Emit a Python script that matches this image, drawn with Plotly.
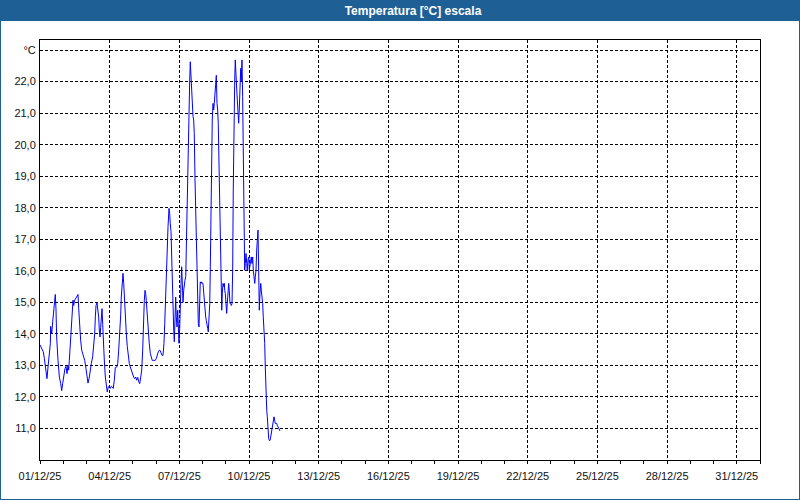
import pandas as pd
import plotly.graph_objects as go

# ---- data ----
start_time = "2025-12-01 00:00"
hours = [0, 2.1, 3.4, 4.5, 5.5, 7.2, 8.3, 9.6, 10.7, 11.0, 12.1, 13.1, 14.1, 14.8, 15.8, 16.5, 17.2, 18.6,
         20.0, 21.4, 22.4, 23.4, 24.5, 25.8, 26.9, 27.9, 28.9, 29.6, 30.3, 31.3, 32.4, 33.1, 34.1, 34.8,
         35.8, 37.2, 38.6, 39.3, 40.0, 41.0, 42.0, 43.1, 44.1, 45.1, 46.2, 47.5, 48.6, 49.6, 51.0, 52.0,
         53.0, 54.4, 55.4, 56.5, 57.2, 57.9, 58.9, 59.9, 60.6, 61.3, 62.0, 62.7, 63.4, 64.1, 64.8, 65.4,
         66.4, 67.5, 68.5, 69.5, 70.6, 71.6, 72.6, 73.7, 74.7, 75.7, 76.8, 77.8, 79.3, 80.3, 81.3, 82.4,
         83.4, 84.0, 85.0, 85.8, 86.5, 87.1, 88.1, 89.2, 90.2, 91.2, 92.3, 93.3, 94.8, 95.8, 96.8, 97.9,
         98.9, 99.9, 101.0, 102.0, 103.0, 104.1, 105.1, 106.1, 106.7, 107.8, 108.5, 109.2, 109.8, 110.9,
         111.9, 112.9, 114.0, 115.0, 116.0, 117.1, 118.1, 119.1, 120.2, 121.2, 122.2, 123.3, 124.0, 125.0,
         126.1, 127.1, 128.1, 128.9, 129.9, 130.5, 131.2, 132.3, 133.3, 134.0, 134.6, 135.4, 136.1, 136.7,
         137.4, 138.2, 138.8, 139.5, 140.2, 140.8, 141.6, 142.3, 142.9, 143.6, 144.4, 145.0, 145.7, 146.4,
         147.0, 147.8, 148.5, 149.1, 149.8, 150.6, 151.2, 151.9, 152.6, 153.2, 154.0, 154.7, 155.3, 156.0,
         156.8, 157.4, 158.1, 158.8, 159.4, 160.2, 160.9, 161.5, 162.2, 163.0, 163.6, 164.3, 165.0, 165.6,
         166.4, 167.1, 167.7, 168.4, 169.2, 169.8, 170.5, 171.2, 171.8, 172.6, 173.3, 173.9, 174.6, 175.4,
         176.0, 176.7, 177.4, 178.0, 178.8, 179.5, 180.1, 180.8, 181.6, 182.2, 182.9, 183.6, 184.2, 185.0,
         185.7, 186.3, 187.0, 187.8, 188.4, 189.1, 189.9, 190.5, 190.9, 191.5, 192.2, 192.9, 193.5, 194.3,
         195.0, 195.6, 196.3, 197.1, 197.7, 198.4, 199.1, 199.7, 200.5, 201.2, 201.8, 202.5, 203.3, 203.9,
         204.6, 205.3, 205.9, 206.7, 207.4, 208.0, 208.7, 209.4, 210.1, 210.8, 211.5, 212.1, 212.9, 213.6,
         214.2, 214.9, 215.7, 216.3, 217.0, 217.7, 218.3, 219.1, 219.8, 220.4, 221.1, 221.9, 222.5, 223.2,
         223.9, 224.5, 225.3, 226.0, 226.6, 227.3, 228.1, 228.7, 229.4, 230.1, 230.7, 231.5, 232.2, 232.8,
         233.5, 234.3, 234.9, 235.6, 236.3, 236.9, 237.7, 238.4, 239.0, 239.7, 240.5, 241.1, 241.8, 242.5,
         243.1, 243.9, 244.6, 245.2, 245.9, 246.7, 247.3, 248.0]
temps = [13.65, 13.54, 13.43, 13.22, 12.95, 12.58, 12.95, 13.27, 13.7, 14.24, 14.0, 14.38, 14.65, 14.97, 15.25,
         14.8, 13.9, 13.16, 12.63, 12.43, 12.2, 12.42, 12.67, 12.9, 12.97, 12.74, 13.0, 12.85, 13.16, 13.6,
         14.2, 14.6, 15.07, 14.9, 15.07, 15.14, 15.2, 15.25, 14.8, 14.2, 13.8, 13.48, 13.38, 13.27, 13.16,
         12.9, 12.64, 12.44, 12.63, 12.9, 13.06, 13.27, 13.59, 14.0, 14.54, 14.9, 14.98, 14.8, 14.54, 14.12,
         13.9, 14.2, 14.5, 14.8, 14.3, 13.6, 13.2, 12.63, 12.37, 12.16, 12.32, 12.34, 12.27, 12.34, 12.32,
         12.27, 12.53, 12.93, 12.95, 13.06, 13.48, 14.0, 14.6, 15.17, 15.65, 15.92, 15.6, 15.12, 14.5, 14.0,
         13.6, 13.3, 13.06, 12.95, 12.79, 12.66, 12.63, 12.58, 12.63, 12.53, 12.62, 12.48, 12.42, 12.63,
         12.85, 13.48, 14.33, 15.07, 15.38, 15.28, 15.07, 14.43, 14.0, 13.7, 13.38, 13.22, 13.16, 13.16,
         13.17, 13.16, 13.22, 13.38, 13.43, 13.48, 13.48, 13.4, 13.32, 13.32, 13.7, 14.33, 15.38, 16.23,
         16.76, 17.4, 17.98, 17.82, 17.5, 17.24, 16.44, 15.6, 14.75, 14.1, 13.75, 14.33, 15.17, 14.54, 14.22,
         14.75, 14.0, 13.7, 14.22, 15.5, 15.6, 16.13, 15.7, 15.0, 15.38, 15.7, 15.7, 15.81, 16.87, 18.14,
         19.0, 20.27, 21.42, 22.05, 22.63, 22.15, 22.05, 21.52, 20.9, 20.78, 20.36, 18.88, 17.83, 16.66,
         15.97, 15.07, 14.33, 14.22, 14.96, 15.65, 15.6, 15.65, 15.6, 15.6, 15.3, 14.97, 14.65, 14.54, 14.43,
         14.33, 14.17, 14.06, 14.43, 14.96, 16.13, 18.14, 19.62, 20.78, 21.31, 21.1, 21.31, 21.74, 22.05,
         22.2, 21.31, 21.1, 20.68, 19.42, 18.24, 17.29, 15.6, 14.75, 15.3, 15.6, 15.5, 15.6, 15.38, 15.28,
         14.96, 14.65, 14.96, 15.38, 15.6, 15.38, 14.96, 14.96, 14.9, 14.96, 16.02, 18.56, 21.42, 22.05,
         22.69, 21.95, 21.74, 21.42, 20.78, 20.68, 21.1, 22.0, 22.42, 22.0, 22.69, 21.52, 19.3, 16.66, 16.02,
         16.23, 16.55, 16.23, 16.02, 16.34, 16.44, 16.02, 16.13, 16.34, 16.44, 16.23, 16.44, 16.02, 15.81,
         15.6, 15.81, 16.02, 16.66, 16.87, 17.29, 15.9, 14.75, 15.28, 15.6, 15.38, 15.17, 14.96, 14.54,
         14.22, 13.7, 12.95, 12.0, 11.58, 11.37, 10.73, 10.68, 10.62, 10.62, 10.73, 10.84, 10.94, 11.05,
         11.26, 11.37, 11.26, 11.16, 11.16, 11.16, 11.1, 11.05, 11.0, 10.94, 10.92]

y_tick_values = [11, 12, 13, 14, 15, 16, 17, 18, 19, 20, 21, 22, 23]
y_tick_labels = ["11,0", "12,0", "13,0", "14,0", "15,0", "16,0", "17,0", "18,0", "19,0", "20,0",
                 "21,0", "22,0", "°C"]
x_tick_dates = ["2025-12-01", "2025-12-04", "2025-12-07", "2025-12-10", "2025-12-13", "2025-12-16",
                "2025-12-19", "2025-12-22", "2025-12-25", "2025-12-28", "2025-12-31"]
x_tick_labels = ["01/12/25", "04/12/25", "07/12/25", "10/12/25", "13/12/25", "16/12/25",
                 "19/12/25", "22/12/25", "25/12/25", "28/12/25", "31/12/25"]
title_text = "Temperatura [°C] escala"

times = pd.Timestamp(start_time) + pd.to_timedelta(hours, unit="h")

FONT = "Liberation Sans"
BLUE = "#1E5F96"

fig = go.Figure()
fig.add_trace(go.Scatter(x=times, y=temps, mode="lines",
                         line=dict(color="#0000FF", width=1), hoverinfo="skip"))

# window chrome: title bar and border
fig.add_shape(type="rect", xref="paper", yref="paper",
              x0=-40 / 720, x1=760 / 720, y0=(460 - 21) / 420, y1=460 / 420,
              fillcolor=BLUE, line=dict(width=0), layer="below")
fig.add_shape(type="rect", xref="paper", yref="paper",
              x0=-40 / 720, x1=760 / 720, y0=-40 / 420, y1=460 / 420,
              fillcolor="rgba(0,0,0,0)", line=dict(color=BLUE, width=2), layer="above")

fig.update_layout(
    width=800, height=500,
    margin=dict(l=40, r=40, t=40, b=40),
    paper_bgcolor="#FFFFFF", plot_bgcolor="#FFFFFF",
    showlegend=False,
    font=dict(family=FONT, size=11, color="#111111"),
    title=dict(text=title_text, x=413 / 800, xref="container", xanchor="center",
               y=1 - 10.5 / 500, yref="container", yanchor="middle",
               font=dict(family=FONT, size=12, color="#FFFFFF", weight="bold")),
)

fig.update_xaxes(
    type="date", range=["2025-12-01", "2026-01-01"],
    tickvals=pd.to_datetime(x_tick_dates), ticktext=x_tick_labels,
    ticks="outside", ticklen=3, tickcolor="#000000", tickwidth=1,
    minor=dict(dtick=86400000, ticks="outside", ticklen=3, tickcolor="#000000", showgrid=False),
    showgrid=True, gridcolor="#000000", gridwidth=1, griddash="3px,2px",
    showline=True, linecolor="#000000", linewidth=1, mirror=True,
    zeroline=False, ticklabelstandoff=3,
)
fig.update_yaxes(
    range=[10.0, 23.32],
    tickvals=y_tick_values, ticktext=y_tick_labels,
    ticks="", showgrid=True, gridcolor="#000000", gridwidth=1, griddash="3px,2px",
    showline=True, linecolor="#000000", linewidth=1, mirror=True,
    zeroline=False, ticklabelstandoff=1,
)

fig.write_html(
    "out.html",
    config={"displayModeBar": False},
    post_script="document.body.style.margin='0';document.body.style.overflow='hidden';",
)
